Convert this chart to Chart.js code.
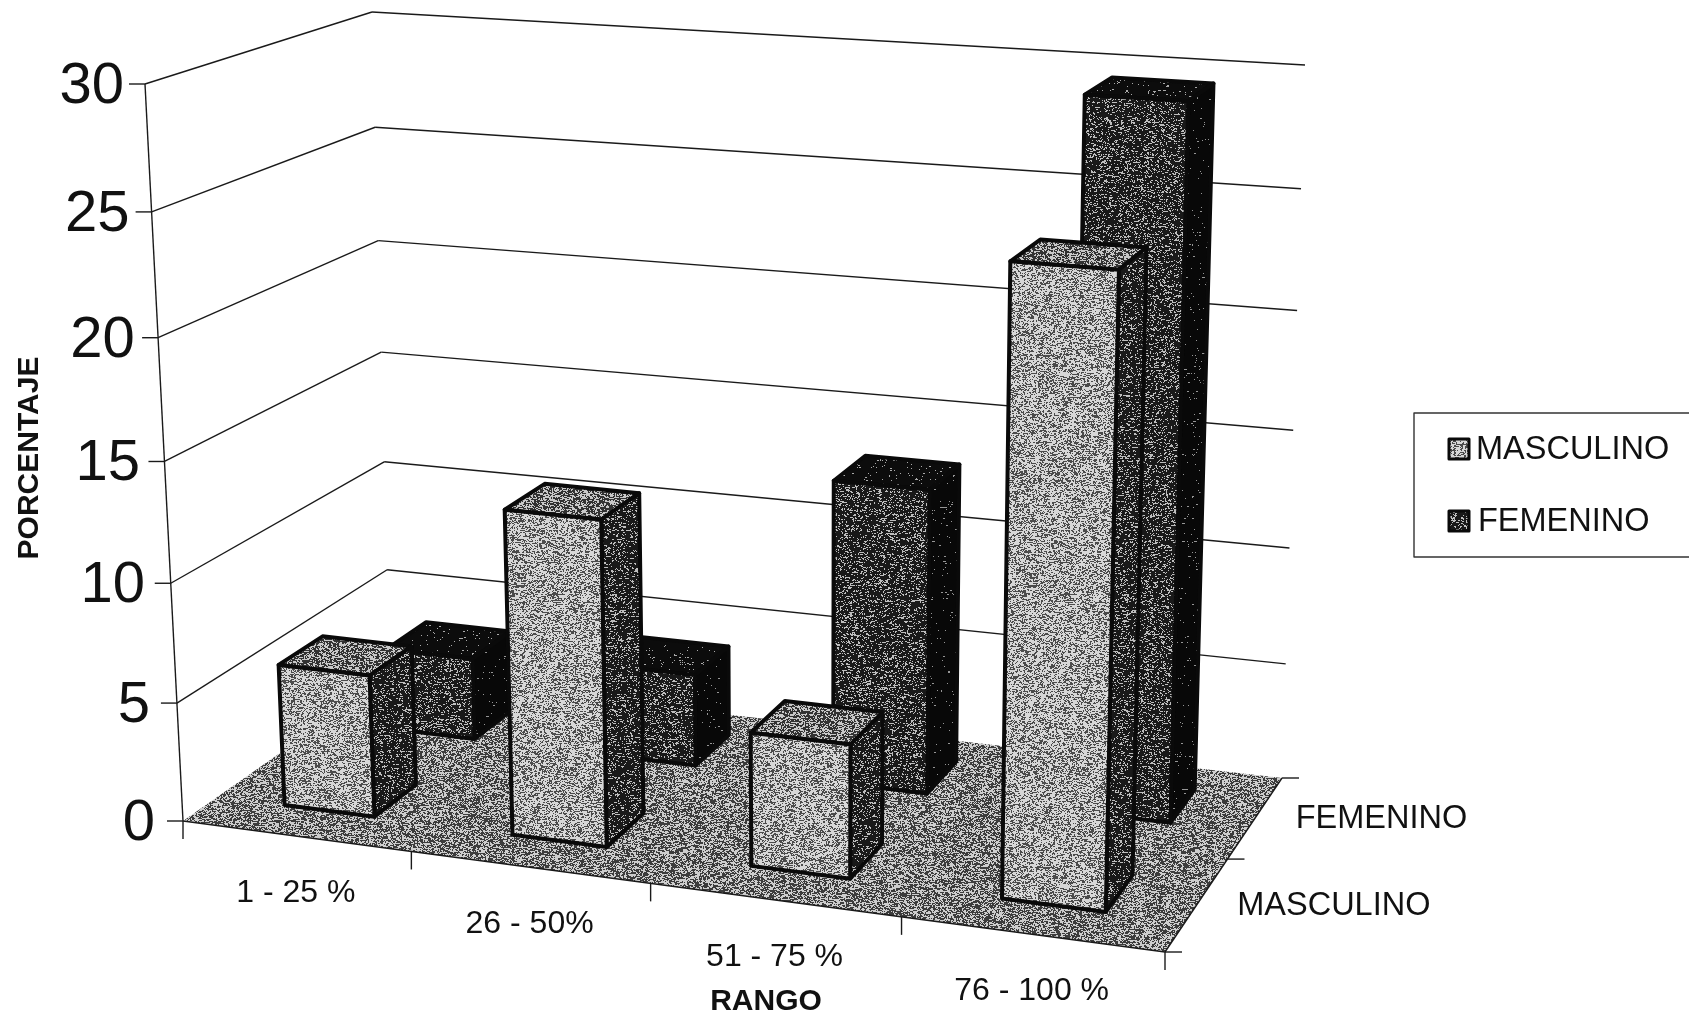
<!DOCTYPE html>
<html>
<head>
<meta charset="utf-8">
<title>Porcentaje por rango</title>
<style>
html, body { margin: 0; padding: 0; background: #fff; }
#wrap { width: 1689px; height: 1016px; position: relative; overflow: hidden; }
</style>
</head>
<body>
<div id="wrap"><canvas id="grafico"></canvas></div>
<script src="https://cdn.jsdelivr.net/npm/chart.js@4"></script>
<script>
const rangos = ['1 - 25 %', '26 - 50%', '51 - 75 %', '76 - 100 %'];
const masculino = [6, 13.5, 5.5, 25];
const femenino = [3.6, 4, 13, 29.5];
const ticksY = { min: 0, max: 30, stepSize: 5 };

// corners of the 3D box on screen
const FL0 = [183, 821], FR0 = [1165, 952], BL0 = [390, 676], BR0 = [1282, 778];
const FL1 = [145, 84], FR1 = [1185, 156], BL1 = [372, 12], BR1 = [1305, 65];
const rowDepth = [[0.17, 0.385], [0.69, 0.885]];
const midDepth = 0.534;
const serif = 'Arial, "Liberation Sans", sans-serif';

function mix(a, b, t) {
    return [a[0] + (b[0] - a[0]) * t, a[1] + (b[1] - a[1]) * t];
}

// the original perspective is not even: categories widen to the right, height widens to the top
function warp(t, k) {
    return t / (t + k * (1 - t));
}

function project(u, d, h) {
    const w = warp(u, 1.1);
    const bottom = mix(mix(FL0, FR0, w), mix(BL0, BR0, w), d);
    const top = mix(mix(FL1, FR1, w), mix(BL1, BR1, w), d);
    return mix(bottom, top, warp(h, 1.05));
}

// scanned halftone look, fixed seed so every run is the same
let seed = 12345;
function rnd() {
    seed = (seed * 1664525 + 1013904223) % 4294967296;
    return seed / 4294967296;
}

function texture(ctx, tone, light, dark) {
    const size = 512;
    const c = document.createElement('canvas');
    c.width = c.height = size;
    const g = c.getContext('2d');
    const img = g.createImageData(size, size);
    for (let y = 0; y < size; y++) {
        const row = (rnd() - 0.5) * 0.08;
        let on = 0;
        for (let x = 0; x < size; x++) {
            if (rnd() < 0.8) on = rnd() < tone + row ? 1 : 0;
            const v = on ? light : dark;
            const p = (y * size + x) * 4;
            img.data[p] = img.data[p + 1] = img.data[p + 2] = v;
            img.data[p + 3] = 255;
        }
    }
    g.putImageData(img, 0, 0);
    return ctx.createPattern(c, 'repeat');
}

let fills = null;
function getFills(ctx) {
    if (!fills) {
        fills = {
            floor: texture(ctx, 0.48, 205, 60),
            masc: {
                front: texture(ctx, 0.6, 215, 75),
                top: texture(ctx, 0.45, 200, 50),
                side: texture(ctx, 0.2, 190, 25)
            },
            fem: {
                front: texture(ctx, 0.22, 190, 25),
                top: texture(ctx, 0.04, 170, 12),
                side: texture(ctx, 0.02, 150, 8)
            }
        };
    }
    return fills;
}

function face(ctx, pts, fill, lw) {
    ctx.beginPath();
    ctx.moveTo(pts[0][0], pts[0][1]);
    for (let i = 1; i < pts.length; i++) ctx.lineTo(pts[i][0], pts[i][1]);
    ctx.closePath();
    if (fill) {
        ctx.fillStyle = fill;
        ctx.fill();
    }
    if (lw) {
        ctx.lineWidth = lw;
        ctx.strokeStyle = '#0a0a0a';
        ctx.stroke();
    }
}

function line(ctx, a, b, lw) {
    ctx.beginPath();
    ctx.moveTo(a[0], a[1]);
    ctx.lineTo(b[0], b[1]);
    ctx.lineWidth = lw;
    ctx.strokeStyle = '#1a1a1a';
    ctx.stroke();
}

function text(ctx, str, x, y, font, align) {
    ctx.font = font;
    ctx.fillStyle = '#111';
    ctx.textAlign = align;
    ctx.textBaseline = 'middle';
    ctx.fillText(str, x, y);
}

const box3d = {
    id: 'box3d',
    beforeDatasetsDraw(chart) {
        const ctx = chart.ctx;
        const area = chart.chartArea;
        const sx = chart.scales.x;
        const sy = chart.scales.y;
        const f = getFills(ctx);
        const toU = px => (px - area.left) / area.width;
        const toH = px => (area.bottom - px) / area.height;

        ctx.save();
        ctx.lineJoin = 'round';

        // walls
        sy.ticks.forEach(t => {
            const h = toH(sy.getPixelForValue(t.value));
            const front = project(0, 0, h);
            const back = project(0, 1, h);
            if (t.value > 0) {
                line(ctx, front, back, 1.4);
                line(ctx, back, project(1, 1, h), 1.4);
            }
            line(ctx, front, [front[0] - 16, front[1]], 1.4);
            text(ctx, t.label, front[0] - 28 + 7 * h, front[1] + 3, '58px ' + serif, 'right');
        });
        line(ctx, project(0, 0, 0), project(0, 0, 1), 1.4);

        // floor
        face(ctx, [FL0, FR0, BR0, BL0], f.floor, 0);
        line(ctx, FL0, FR0, 1.4);
        line(ctx, FR0, BR0, 1.4);

        // ticks and labels under the floor
        const half = (sx.getPixelForValue(1) - sx.getPixelForValue(0)) / 2;
        rangos.forEach((r, i) => {
            const px = sx.getPixelForValue(i);
            const a = project(toU(px - half), 0, 0);
            line(ctx, a, [a[0], a[1] + 18], 1.4);
            const c = project(toU(px), 0, 0);
            text(ctx, sx.getLabelForValue(i), c[0], c[1] + 57, '32px ' + serif, 'center');
        });
        line(ctx, FR0, [FR0[0], FR0[1] + 18], 1.4);

        // depth axis
        [0, midDepth, 1].forEach(d => {
            const a = project(1, d, 0);
            line(ctx, a, [a[0] + 17, a[1]], 1.4);
        });
        [midDepth / 2, (midDepth + 1) / 2].forEach((d, i) => {
            const a = project(1, d, 0);
            text(ctx, chart.data.datasets[i].label, a[0] + 41, a[1], '32.5px ' + serif, 'left');
        });

        // bars, back row first
        [1, 0].forEach(ds => {
            const skin = ds === 0 ? f.masc : f.fem;
            const [d0, d1] = rowDepth[ds];
            chart.getDatasetMeta(ds).data.forEach(bar => {
                const u0 = toU(bar.x - bar.width / 2);
                const u1 = toU(bar.x + bar.width / 2);
                const h = toH(bar.y);
                face(ctx, [project(u0, d0, h), project(u1, d0, h), project(u1, d1, h), project(u0, d1, h)], skin.top, 4);
                face(ctx, [project(u1, d0, 0), project(u1, d1, 0), project(u1, d1, h), project(u1, d0, h)], skin.side, 4);
                face(ctx, [project(u0, d0, 0), project(u1, d0, 0), project(u1, d0, h), project(u0, d0, h)], skin.front, 4);
            });
        });

        // legend
        ctx.strokeStyle = '#333';
        ctx.lineWidth = 1.4;
        ctx.strokeRect(1414, 413, 290, 144);
        const skins = [f.masc.front, f.fem.front];
        chart.data.datasets.forEach((ds, i) => {
            const y = 449 + i * 72;
            const x = i === 0 ? 1476 : 1478;
            face(ctx, [[1449, y - 10], [1469, y - 10], [1469, y + 10], [1449, y + 10]], skins[i], 3);
            text(ctx, ds.label, x, y + 1, '32.5px ' + serif, 'left');
        });

        ctx.restore();
        return false;
    }
};

new Chart(document.getElementById('grafico'), {
    type: 'bar',
    data: {
        labels: rangos,
        datasets: [
            { label: 'MASCULINO', data: masculino, backgroundColor: '#b0b0b0' },
            { label: 'FEMENINO', data: femenino, backgroundColor: '#444444' }
        ]
    },
    options: {
        responsive: true,
        maintainAspectRatio: false,
        animation: false,
        events: [],
        grouped: false,
        barPercentage: 0.4,
        categoryPercentage: 1,
        layout: { padding: { top: 16, right: 275 } },
        plugins: {
            legend: { display: false },
            tooltip: { enabled: false }
        },
        scales: {
            x: {
                grid: { display: false },
                border: { display: false },
                ticks: { display: false },
                afterFit: s => { s.height = 116; },
                title: {
                    display: true,
                    text: 'RANGO',
                    color: '#111',
                    font: { family: serif, size: 30, weight: 'bold' },
                    padding: { top: 0, bottom: -4 }
                }
            },
            y: {
                min: ticksY.min,
                max: ticksY.max,
                grid: { display: false },
                border: { display: false },
                ticks: { display: false, stepSize: ticksY.stepSize },
                afterFit: s => { s.width = 118; },
                title: {
                    display: true,
                    text: 'PORCENTAJE',
                    color: '#111',
                    font: { family: serif, size: 30, weight: 'bold' },
                    padding: { top: 12, bottom: 0 }
                }
            }
        }
    },
    plugins: [box3d]
});
</script>
</body>
</html>
